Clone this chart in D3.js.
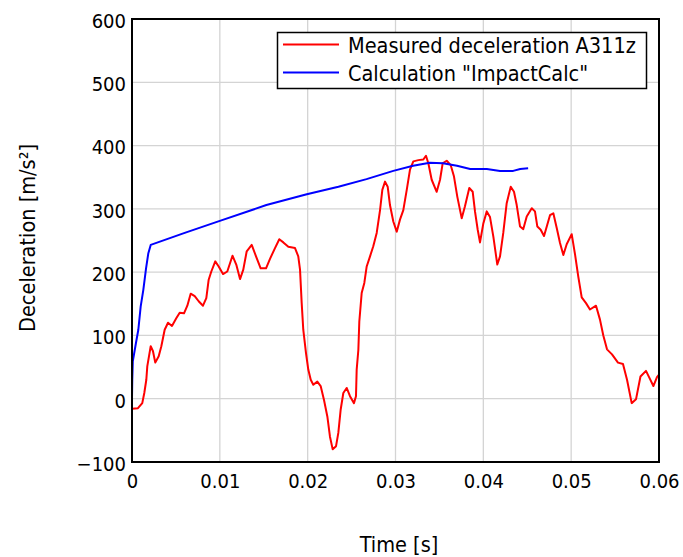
<!DOCTYPE html>
<html>
<head>
<meta charset="utf-8">
<script src="https://cdn.jsdelivr.net/npm/d3@7"></script>
<style>
  html, body { margin: 0; padding: 0; background: #ffffff; }
  svg { display: block; }
  text { font-family: "DejaVu Sans Condensed", "DejaVu Sans", sans-serif; fill: #000; }
</style>
</head>
<body>
<svg id="chart" width="683" height="557"></svg>
<script>
// ---- Data (time in ms, values in m/s²) ----
const measuredTimeMs = [0,0.68,1.17,1.40,1.63,1.74,2.13,2.39,2.65,3.04,3.34,3.72,4.10,4.55,5.04,5.43,5.92,6.30,6.68,7.14,7.59,8.08,8.46,8.73,9.03,9.48,9.87,10.36,10.85,11.44,11.87,12.30,12.67,13.06,13.63,14.12,14.65,15.26,15.71,16.28,16.77,17.23,17.80,18.56,18.93,19.13,19.32,19.50,19.81,20.07,20.35,20.64,21.10,21.48,21.86,22.24,22.54,22.85,23.23,23.49,23.76,24.06,24.44,24.82,25.27,25.50,25.58,25.77,25.88,26.15,26.45,26.72,27.10,27.47,27.86,28.24,28.50,28.81,29.11,29.37,29.75,30.14,30.51,30.89,31.28,31.65,32.03,32.60,33.17,33.47,33.74,34.12,34.69,35.07,35.37,35.83,36.29,36.66,37.04,37.54,37.91,38.40,38.79,39.05,39.36,39.62,40.00,40.39,40.76,41.14,41.59,41.90,42.27,42.66,43.12,43.49,43.80,44.18,44.55,44.94,45.51,45.88,46.15,46.53,46.91,47.28,47.59,47.97,48.35,48.73,49.11,49.49,50.06,50.44,50.81,51.20,51.69,52.14,52.83,53.28,53.66,54.08,54.65,55.33,55.90,56.36,56.89,57.38,57.89,58.52,58.98,59.36,59.77,60.0];
const measuredValues = [-16,-15,-7,9,30,51,83,75,57,67,83,109,120,115,127,136,135,147,166,162,154,147,159,188,201,217,209,197,201,226,212,189,204,233,243,225,206,206,221,238,252,247,240,238,225,204,151,109,72,46,30,22,27,20,-2,-28,-60,-80,-75,-54,-17,9,17,4,-7,4,46,77,122,167,183,209,225,241,262,298,330,343,335,306,280,264,283,298,330,362,375,377,378,384,372,346,327,346,372,376,369,351,319,285,304,333,327,296,267,247,277,296,287,256,212,225,262,309,335,327,306,272,268,288,301,296,272,267,257,275,290,293,270,246,227,244,260,228,193,160,151,141,147,125,100,78,70,57,55,30,-7,-1,35,44,31,20,34,38];

const calcTimeMs = [0,0.03,0.09,0.45,0.72,0.99,1.29,1.60,1.86,2.13,6.0,10.0,15.3,19.9,23.5,26.7,29.75,32.0,33.9,35.4,37.0,38.5,40.4,41.9,43.4,44.2,45.1];
const calcValues = [2,30,59,88,109,146,172,206,230,243,262,281,306,323,335,347,360,368,373,372,368,363,363,360,360,363,364];

const xTicks = [0, 0.01, 0.02, 0.03, 0.04, 0.05, 0.06];
const xTickLabels = ["0", "0.01", "0.02", "0.03", "0.04", "0.05", "0.06"];
const yTicks = [-100, 0, 100, 200, 300, 400, 500, 600];
const seriesNames = ["Measured deceleration A311z", "Calculation \"ImpactCalc\""];
const seriesColors = ["#ff0000", "#0000ff"];
const xTitle = "Time [s]";
const yTitle = "Deceleration [m/s²]";

// ---- Layout ----
const svg = d3.select("#chart");
const plot = { left: 132, right: 659, top: 19, bottom: 462 };

const x = d3.scaleLinear().domain([0, 0.06]).range([plot.left, plot.right]);
const y = d3.scaleLinear().domain([-100, 600]).range([plot.bottom, plot.top]);

// Gridlines
const grid = svg.append("g");
grid.selectAll("line.vx").data(xTicks.slice(1, -1)).enter().append("line")
  .attr("x1", d => x(d)).attr("x2", d => x(d))
  .attr("y1", plot.top).attr("y2", plot.bottom)
  .attr("stroke", "#d4d4d4").attr("stroke-width", 1.3);
grid.selectAll("line.hy").data(yTicks.slice(1, -1)).enter().append("line")
  .attr("x1", plot.left).attr("x2", plot.right)
  .attr("y1", d => y(d)).attr("y2", d => y(d))
  .attr("stroke", "#d4d4d4").attr("stroke-width", 1.3);

// Axes (labels only, no tick marks)
const xAxis = d3.axisBottom(x).tickValues(xTicks).tickSize(0).tickPadding(12)
  .tickFormat((d, i) => xTickLabels[i]);
const gx = svg.append("g").attr("transform", `translate(0,${plot.bottom})`).call(xAxis);
gx.select(".domain").remove();
gx.selectAll("text").attr("font-size", "20px")
  .style("font-family", "'DejaVu Sans Condensed', 'DejaVu Sans', sans-serif").attr("fill", "#000");

const yAxis = d3.axisLeft(y).tickValues(yTicks).tickSize(0).tickPadding(6);
const gy = svg.append("g").attr("transform", `translate(${plot.left},0)`).call(yAxis);
gy.select(".domain").remove();
gy.selectAll("text").attr("font-size", "20px").attr("dy", "0.42em")
  .style("font-family", "'DejaVu Sans Condensed', 'DejaVu Sans', sans-serif").attr("fill", "#000");

// Clip
svg.append("clipPath").attr("id", "clip").append("rect")
  .attr("x", plot.left).attr("y", plot.top)
  .attr("width", plot.right - plot.left).attr("height", plot.bottom - plot.top);

const measured = measuredTimeMs.map((t, i) => [t / 1000, measuredValues[i]]);
const calc = calcTimeMs.map((t, i) => [t / 1000, calcValues[i]]);
const line = d3.line().x(d => x(d[0])).y(d => y(d[1]));

svg.append("path").datum(measured).attr("d", line)
  .attr("fill", "none").attr("stroke", seriesColors[0]).attr("stroke-width", 2)
  .attr("stroke-linejoin", "round").attr("clip-path", "url(#clip)");
svg.append("path").datum(calc).attr("d", line)
  .attr("fill", "none").attr("stroke", seriesColors[1]).attr("stroke-width", 2)
  .attr("stroke-linejoin", "round").attr("clip-path", "url(#clip)");

// Frame
svg.append("rect").attr("x", plot.left).attr("y", plot.top)
  .attr("width", plot.right - plot.left).attr("height", plot.bottom - plot.top)
  .attr("fill", "none").attr("stroke", "#000").attr("stroke-width", 2);

// Legend
const lg = svg.append("g");
lg.append("rect").attr("x", 277.5).attr("y", 32.5).attr("width", 369).attr("height", 56)
  .attr("fill", "#fff").attr("stroke", "#000").attr("stroke-width", 1.5);
seriesNames.forEach((name, i) => {
  const yy = 44.5 + i * 28;
  lg.append("line").attr("x1", 283).attr("x2", 339).attr("y1", yy).attr("y2", yy)
    .attr("stroke", seriesColors[i]).attr("stroke-width", 2);
  lg.append("text").attr("x", 348).attr("y", yy + 8.5).attr("font-size", "21.5px").text(name);
});

// Axis titles
svg.append("text").attr("x", 399).attr("y", 552).attr("text-anchor", "middle")
  .attr("font-size", "21.5px").text(xTitle);
svg.append("text").attr("transform", "translate(35,238) rotate(-90)")
  .attr("text-anchor", "middle").attr("font-size", "21.5px").text(yTitle);
</script>
</body>
</html>
